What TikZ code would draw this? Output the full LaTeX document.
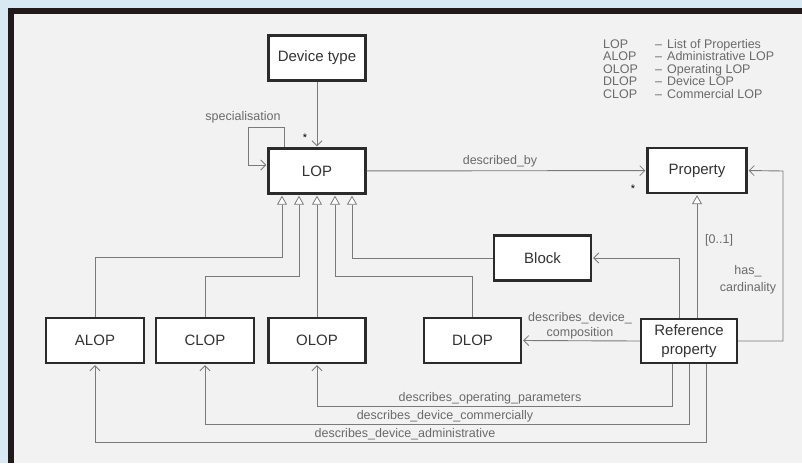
\documentclass[tikz,border=0pt]{standalone}
\usepackage{fontspec}
\setmainfont{Liberation Sans}
\usetikzlibrary{arrows.meta,calc}
\definecolor{outerbg}{HTML}{D9E9F4}
\definecolor{panelbg}{HTML}{F2F2F2}
\definecolor{framec}{HTML}{221A1A}
\definecolor{boxline}{HTML}{2B2B2B}
\definecolor{boxtext}{HTML}{333333}
\definecolor{linec}{HTML}{7A7A7A}
\definecolor{labelc}{HTML}{6A6A6A}
\tikzset{
  classbox/.style={draw=boxline, line width=2.2pt, fill=white, text=boxtext,
    minimum width=97pt, minimum height=45pt, inner sep=0pt, align=center,
    font=\fontsize{15}{19}\selectfont},
  conn/.style={draw=linec, line width=0.9pt},
  nav/.style={conn, -{Straight Barb[length=5pt,width=10pt,line width=0.8pt]}, shorten >=1.1pt},
  gen/.style={conn, -{Triangle[open,length=9pt,width=10pt,line width=0.8pt,fill=white]}, shorten >=1.1pt},
  elabel/.style={text=labelc, inner sep=0pt, font=\fontsize{12.5}{15}\selectfont},
  legend/.style={text=labelc, inner sep=0pt, anchor=base west, font=\fontsize{12.5}{12.5}\selectfont},
  mult/.style={text=black, inner sep=0pt, font=\fontsize{11}{11}\selectfont}
}
\begin{document}
\begin{tikzpicture}[x=1pt,y=-1pt]
\useasboundingbox (0,0) rectangle (802,463);
% background
\fill[outerbg] (0,0) rectangle (802,463);
\fill[panelbg] (11,11) rectangle (802,463);
\draw[framec, line width=5.5pt] (11,463) -- (11,11) -- (802,11);

% classes
\node[classbox] (devtype) at (317,58) {Device type};
\node[classbox] (lop) at (317,171) {LOP};
\node[classbox, minimum width=99pt] (prop) at (697,170.5) {Property};
\node[classbox] (block) at (542.5,258) {Block};
\node[classbox] (dlop) at (472.5,340.5) {DLOP};
\node[classbox, minimum width=96pt, minimum height=44pt] (ref) at (689,341) {Reference\\property};
\node[classbox, minimum width=98pt] (alop) at (95,340.5) {ALOP};
\node[classbox, minimum width=98pt] (clop) at (205,340.5) {CLOP};
\node[classbox] (olop) at (317,340.5) {OLOP};

% legend
\node[legend] (lg1) at (603,48) {\makebox[52pt][l]{LOP}\makebox[12pt][l]{–}List of Properties};
\node[legend] (lg2) at (603,60.5) {\makebox[52pt][l]{ALOP}\makebox[12pt][l]{–}Administrative LOP};
\node[legend] (lg3) at (603,73) {\makebox[52pt][l]{OLOP}\makebox[12pt][l]{–}Operating LOP};
\node[legend] (lg4) at (603,85.5) {\makebox[52pt][l]{DLOP}\makebox[12pt][l]{–}Device LOP};
\node[legend] (lg5) at (603,98) {\makebox[52pt][l]{CLOP}\makebox[12pt][l]{–}Commercial LOP};

% device type -> LOP
\draw[nav] (devtype) -- (lop);
\node[mult] (m1) at (305,138) {*};

% specialisation loop
\draw[nav] ([xshift=-33pt]lop.north) |- (248,127) |- ([yshift=6pt]lop.west);
\node[elabel] (spec) at (243,117) {specialisation};

% described_by
\draw[nav] (lop) -- (prop);
\node[elabel] (dby) at (500,161) {described\_by};
\node[mult] (m2) at (633,189) {*};

% generalisations to LOP
\draw[gen] (alop.north) |- (282,257) -- ([xshift=-35pt]lop.south);
\draw[gen] (clop.north) |- (299,276) -- ([xshift=-18pt]lop.south);
\draw[gen] (olop.north) -- (lop.south);
\draw[gen] (dlop.north) |- (335,276) -- ([xshift=18pt]lop.south);
\draw[gen] (block.west) -| ([xshift=35pt]lop.south);

% reference property -> property (generalisation)
\draw[gen] (ref.north -| prop.south) -- (prop.south);
\node[elabel, anchor=west] (card) at (705,240) {[0..1]};

% has_cardinality
\draw[nav] (ref.east) -| (783,171) -- (prop.east);
\node[elabel, align=center, font=\fontsize{12.5}{17}\selectfont] (hc) at (748,280) {has\_\\cardinality};

% reference property -> block
\draw[nav] ([xshift=-10pt]ref.north) |- (block.east);

% reference property -> DLOP
\draw[nav] (ref.west) -- (dlop.east);
\node[elabel, align=center] (ddc) at (580,326) {describes\_device\_\\composition};

% bottom connectors
\draw[nav] ([xshift=-17pt]ref.south) |- (317,406) -- (olop.south);
\draw[nav] (ref.south) |- (205,424) -- (clop.south);
\draw[nav] ([xshift=17pt]ref.south) |- (95,442) -- (alop.south);
\node[elabel, anchor=base] (dop) at (490,401) {describes\_operating\_parameters};
\node[elabel, anchor=base] (ddcom) at (445,419) {describes\_device\_commercially};
\node[elabel, anchor=base] (ddadm) at (405,437) {describes\_device\_administrative};
\end{tikzpicture}
\end{document}
